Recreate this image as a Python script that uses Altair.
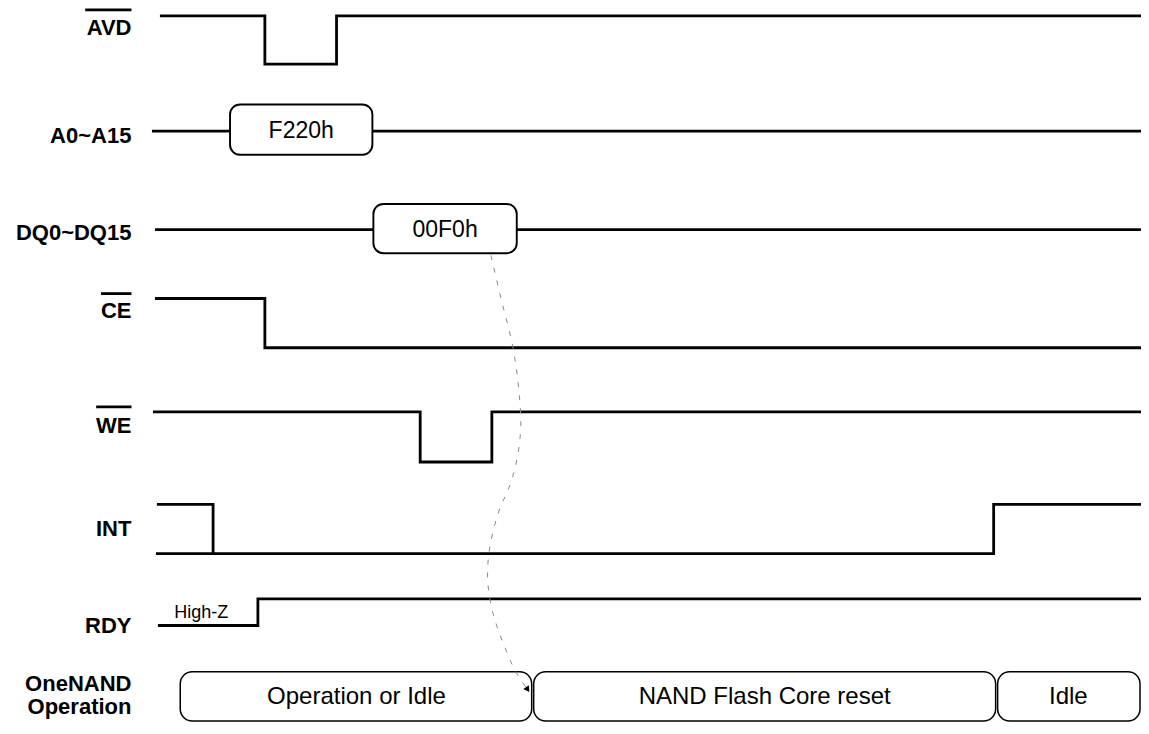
import altair as alt
import pandas as pd

# ---------------- data ----------------
# time axis expressed in reference-pixel units (edges = transition times)
AVD_EDGES = [162, 266, 338, 1149]
AVD_LEVELS = [1, 0, 1]
CE_EDGES = [157, 266, 1149]
CE_LEVELS = [1, 0]
WE_EDGES = [155, 422, 494, 1149]
WE_LEVELS = [1, 0, 1]
INT_EDGES = [159, 214, 998, 1145]
INT_LEVELS = [1, 0, 1]
INT_ALT_EDGES = [158, 214]
INT_ALT_LEVELS = [0]
RDY_EDGES = [160, 259, 1148]
RDY_LEVELS = [0, 1]

ADDR_EDGES = [154, 231, 374, 1149]
ADDR_VALUE = "F220h"
DQ_EDGES = [157, 375, 519, 1149]
DQ_VALUE = "00F0h"

OP_EDGES = [181, 535, 1001, 1145]
OP_STATES = ["Operation or Idle", "NAND Flash Core reset", "Idle"]

LABELS = ["AVD", "A0~A15", "DQ0~DQ15", "CE", "WE", "INT", "RDY", "OneNAND", "Operation"]
OVERLINED = ["AVD", "CE", "WE"]
HIGHZ_TEXT = "High-Z"

# connector (dashed curve) from the DQ command to the start of the reset
LINK_X = [493, 503, 515, 521, 523, 520, 513, 500, 491, 490, 495, 505, 518, 530]
LINK_Y = [257, 300, 350, 393, 430, 460, 488, 520, 560, 590, 620, 650, 680, 698]

# ---------------- layout (styling, not data) ----------------
ROW_LEVEL_Y = {"AVD": (14, 63), "CE": (301, 351), "WE": (416, 467),
               "INT": (510, 560), "RDY": (606, 633)}
BUS_Y = {"A0~A15": (104, 131, 155), "DQ0~DQ15": (205, 231, 255)}
OP_Y = (680, 730)
LABEL_RIGHT = 132
LABEL_Y = {"AVD": 26, "A0~A15": 136, "DQ0~DQ15": 234, "CE": 314, "WE": 430,
           "INT": 535, "RDY": 634, "OneNAND": 692, "Operation": 716}
OVERLINE_GAP = {"AVD": 18, "CE": 18, "WE": 19}
LABEL_FS = 22
BUS_FS = 23
OP_FS = 24
BOLD_W = {"A": .722, "V": .667, "D": .722, "C": .722, "E": .667, "W": .944}

# ---------------- build tables ----------------
def step_path(edges, levels, hi, lo):
    pts = []
    for i, lev in enumerate(levels):
        y = hi if lev else lo
        pts.append((edges[i], y))
        pts.append((edges[i + 1], y))
    return pts

paths = {
    "AVD": step_path(AVD_EDGES, AVD_LEVELS, *ROW_LEVEL_Y["AVD"]),
    "CE": step_path(CE_EDGES, CE_LEVELS, *ROW_LEVEL_Y["CE"]),
    "WE": step_path(WE_EDGES, WE_LEVELS, *ROW_LEVEL_Y["WE"]),
    "INT": step_path(INT_EDGES, INT_LEVELS, *ROW_LEVEL_Y["INT"]),
    "INT2": step_path(INT_ALT_EDGES, INT_ALT_LEVELS, *ROW_LEVEL_Y["INT"]),
    "RDY": step_path(RDY_EDGES, RDY_LEVELS, *ROW_LEVEL_Y["RDY"]),
}
for name, edges in (("A0~A15", ADDR_EDGES), ("DQ0~DQ15", DQ_EDGES)):
    mid = BUS_Y[name][1]
    paths[name + "_l"] = [(edges[0], mid), (edges[1], mid)]
    paths[name + "_r"] = [(edges[2], mid), (edges[3], mid)]

line_rows = []
for pid, pts in paths.items():
    for k, (x, y) in enumerate(pts):
        line_rows.append({"pid": pid, "k": k, "x": x, "y": y})
lines_df = pd.DataFrame(line_rows)

bus_df = pd.DataFrame([
    {"x": ADDR_EDGES[1], "x2": ADDR_EDGES[2], "y": BUS_Y["A0~A15"][0], "y2": BUS_Y["A0~A15"][2],
     "xm": (ADDR_EDGES[1] + ADDR_EDGES[2]) / 2, "ym": BUS_Y["A0~A15"][1], "t": ADDR_VALUE},
    {"x": DQ_EDGES[1], "x2": DQ_EDGES[2], "y": BUS_Y["DQ0~DQ15"][0], "y2": BUS_Y["DQ0~DQ15"][2],
     "xm": (DQ_EDGES[1] + DQ_EDGES[2]) / 2, "ym": BUS_Y["DQ0~DQ15"][1], "t": DQ_VALUE},
])

op_df = pd.DataFrame([
    {"x": OP_EDGES[i] + (1 if i > 0 else 0), "x2": OP_EDGES[i + 1] - (1 if i < len(OP_STATES) - 1 else 0),
     "y": OP_Y[0], "y2": OP_Y[1], "xm": (OP_EDGES[i] + OP_EDGES[i + 1]) / 2,
     "ym": (OP_Y[0] + OP_Y[1]) / 2 + 1, "t": s}
    for i, s in enumerate(OP_STATES)
])

labels_df = pd.DataFrame([{"x": LABEL_RIGHT, "y": LABEL_Y[t], "t": t} for t in LABELS])

over_rows = []
for t in OVERLINED:
    w = sum(BOLD_W[c] for c in t) * LABEL_FS
    over_rows.append({"x": LABEL_RIGHT - w, "x2": LABEL_RIGHT, "y": LABEL_Y[t] - OVERLINE_GAP[t]})
over_df = pd.DataFrame(over_rows)

highz_df = pd.DataFrame([{"x": RDY_EDGES[0] + 15, "y": ROW_LEVEL_Y["RDY"][1] - 13, "t": HIGHZ_TEXT}])

link_df = pd.DataFrame({"x": LINK_X, "y": LINK_Y, "k": list(range(len(LINK_X)))})
arrow_df = pd.DataFrame([{"x": LINK_X[-1], "y": LINK_Y[-1]}])

# ---------------- chart ----------------
XS = alt.Scale(domain=[8, 1146], nice=False, zero=False)
YS = alt.Scale(domain=[6, 731], nice=False, zero=False, reverse=True)
FONT = "Liberation Sans"

def X(f="x"):
    return alt.X(f"{f}:Q", scale=XS, axis=None)

def Y(f="y"):
    return alt.Y(f"{f}:Q", scale=YS, axis=None)

lines = alt.Chart(lines_df).mark_line(color="black", strokeWidth=2.8, strokeJoin="miter",
                                      strokeCap="square").encode(
    x=X(), y=Y(), detail="pid:N", order="k:Q")

bus_boxes = alt.Chart(bus_df).mark_rect(cornerRadius=10, fill="white", stroke="black",
                                        strokeWidth=1.9).encode(
    x=X(), x2="x2:Q", y=Y(), y2="y2:Q")
bus_text = alt.Chart(bus_df).mark_text(font=FONT, fontSize=BUS_FS, color="black").encode(
    x=X("xm"), y=Y("ym"), text="t:N")

op_boxes = alt.Chart(op_df).mark_rect(cornerRadius=12, fill="white", stroke="black",
                                      strokeWidth=1.5).encode(
    x=X(), x2="x2:Q", y=Y(), y2="y2:Q")
op_text = alt.Chart(op_df).mark_text(font=FONT, fontSize=OP_FS, color="black").encode(
    x=X("xm"), y=Y("ym"), text="t:N")

labels = alt.Chart(labels_df).mark_text(font=FONT, fontSize=LABEL_FS, fontWeight="bold",
                                        align="right", baseline="middle", color="black").encode(
    x=X(), y=Y(), text="t:N")

overlines = alt.Chart(over_df).mark_rule(color="black", strokeWidth=2.8).encode(
    x=X(), x2="x2:Q", y=Y())

highz = alt.Chart(highz_df).mark_text(font=FONT, fontSize=18, align="left",
                                      baseline="middle", color="black").encode(
    x=X(), y=Y(), text="t:N")

link = alt.Chart(link_df).mark_line(color="#8a8a8a", strokeWidth=1, strokeDash=[5, 8],
                                    interpolate="catmull-rom").encode(
    x=X(), y=Y(), order="k:Q")

arrow = alt.Chart(arrow_df).mark_point(shape="triangle-down", filled=True, color="black",
                                       size=45, angle=326, opacity=1).encode(
    x=X(), y=Y())

chart = alt.layer(
    lines, bus_boxes, bus_text, op_boxes, op_text, link, arrow, labels, overlines, highz
).properties(
    width=1133, height=714, padding=0, autosize="none", background="white"
).configure_view(stroke=None)

chart.save("out.html", embed_options={"renderer": "svg", "actions": False})
